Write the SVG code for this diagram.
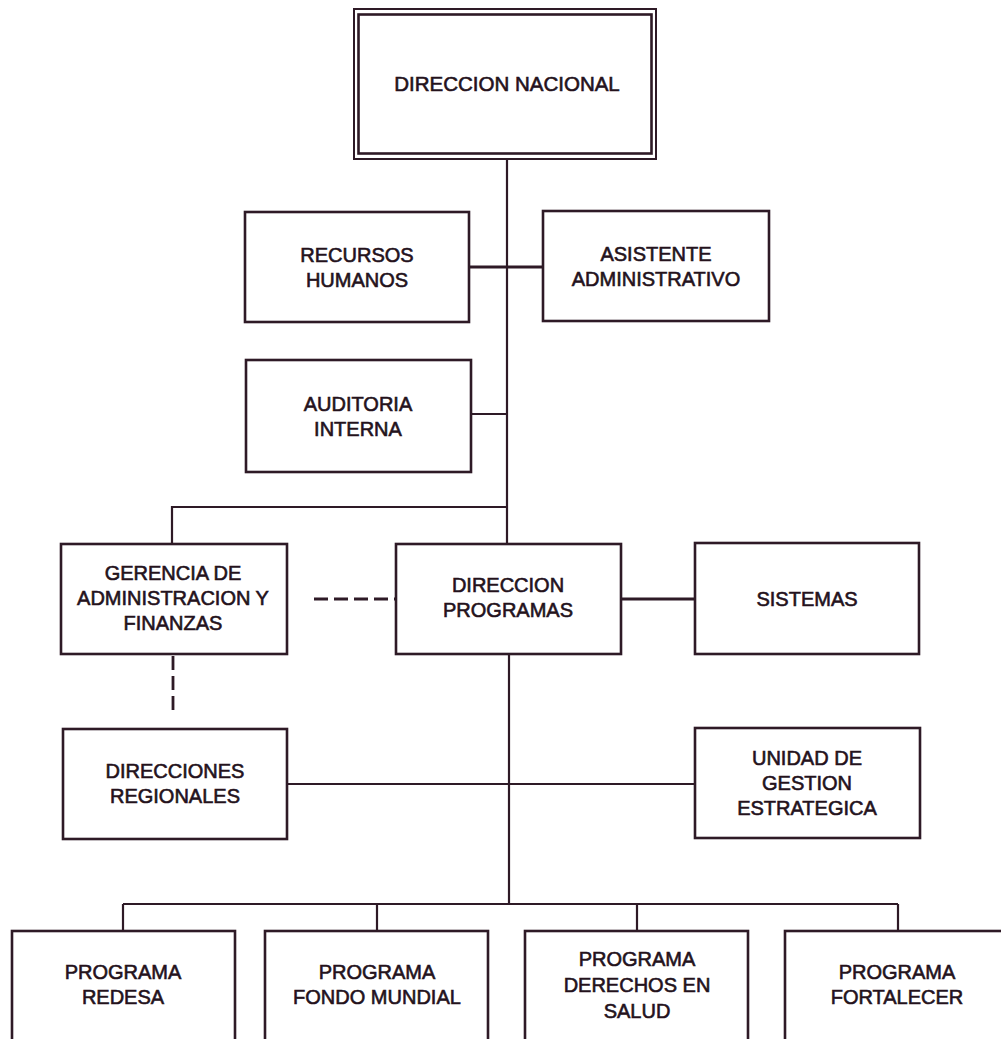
<svg xmlns="http://www.w3.org/2000/svg" width="1001" height="1039" viewBox="0 0 1001 1039">
  <style>
    .box { fill: #ffffff; stroke: #2e1a26; stroke-width: 2.6; }
    .frame { fill: none; stroke: #2e1a26; stroke-width: 2; }
    .lbl { font-family: "Liberation Sans", Arial, sans-serif; font-size: 20px; fill: #24121c; stroke: #24121c; stroke-width: 0.6; text-anchor: middle; }
    .ln { fill: none; stroke: #2e1a26; stroke-width: 2.2; }
    .thick { stroke-width: 3; }
    .dash { stroke-width: 2.8; stroke-dasharray: 14 6; }
  </style>
  <rect width="1001" height="1039" fill="#ffffff"/>

  <!-- connectors -->
  <g id="connectors">
    <line class="ln" x1="507" y1="159" x2="507" y2="544"/>
    <line class="ln" x1="509" y1="654" x2="509" y2="904"/>
    <line class="ln thick" x1="469" y1="267" x2="543" y2="267"/>
    <line class="ln" x1="471" y1="414" x2="507" y2="414"/>
    <polyline class="ln" points="507,507 172,507 172,544"/>
    <line class="ln dash" x1="314" y1="599" x2="396" y2="599"/>
    <line class="ln dash" x1="173" y1="656" x2="173" y2="716"/>
    <line class="ln thick" x1="621" y1="599" x2="695" y2="599"/>
    <line class="ln" x1="287" y1="784" x2="695" y2="784"/>
    <line class="ln" x1="123" y1="904" x2="898" y2="904"/>
    <line class="ln" x1="123" y1="904" x2="123" y2="931"/>
    <line class="ln" x1="377" y1="904" x2="377" y2="931"/>
    <line class="ln" x1="637" y1="904" x2="637" y2="931"/>
    <line class="ln" x1="898" y1="904" x2="898" y2="931"/>
  </g>

  <g id="direccion-nacional">
    <rect class="frame" x="354" y="9" width="302" height="150"/>
    <rect class="frame" x="358.5" y="14.5" width="293" height="139" style="stroke-width:2.6"/>
    <text class="lbl" x="507" y="91" style="font-size:20.5px">DIRECCION NACIONAL</text>
  </g>

  <g id="recursos-humanos">
    <rect class="box" x="245" y="212" width="224" height="110"/>
    <text class="lbl" x="357" y="262">RECURSOS</text>
    <text class="lbl" x="357" y="287">HUMANOS</text>
  </g>

  <g id="asistente-administrativo">
    <rect class="box" x="543" y="211" width="226" height="110"/>
    <text class="lbl" x="656" y="261">ASISTENTE</text>
    <text class="lbl" x="656" y="286">ADMINISTRATIVO</text>
  </g>

  <g id="auditoria-interna">
    <rect class="box" x="246" y="360" width="225" height="112"/>
    <text class="lbl" x="358" y="411">AUDITORIA</text>
    <text class="lbl" x="358" y="436">INTERNA</text>
  </g>

  <g id="gerencia-administracion">
    <rect class="box" x="61" y="544" width="226" height="110"/>
    <text class="lbl" x="173" y="580">GERENCIA DE</text>
    <text class="lbl" x="173" y="605">ADMINISTRACION Y</text>
    <text class="lbl" x="173" y="630">FINANZAS</text>
  </g>

  <g id="direccion-programas">
    <rect class="box" x="396" y="544" width="225" height="110"/>
    <text class="lbl" x="508" y="592">DIRECCION</text>
    <text class="lbl" x="508" y="617">PROGRAMAS</text>
  </g>

  <g id="sistemas">
    <rect class="box" x="695" y="543" width="224" height="111"/>
    <text class="lbl" x="807" y="606">SISTEMAS</text>
  </g>

  <g id="direcciones-regionales">
    <rect class="box" x="63" y="729" width="224" height="110"/>
    <text class="lbl" x="175" y="778">DIRECCIONES</text>
    <text class="lbl" x="175" y="803">REGIONALES</text>
  </g>

  <g id="unidad-gestion">
    <rect class="box" x="695" y="728" width="225" height="110"/>
    <text class="lbl" x="807" y="765">UNIDAD DE</text>
    <text class="lbl" x="807" y="790">GESTION</text>
    <text class="lbl" x="807" y="815">ESTRATEGICA</text>
  </g>

  <g id="programa-redesa">
    <rect class="box" x="12" y="931" width="223" height="130"/>
    <text class="lbl" x="123" y="979">PROGRAMA</text>
    <text class="lbl" x="123" y="1004">REDESA</text>
  </g>

  <g id="programa-fondo-mundial">
    <rect class="box" x="265" y="931" width="223" height="130"/>
    <text class="lbl" x="377" y="979">PROGRAMA</text>
    <text class="lbl" x="377" y="1004">FONDO MUNDIAL</text>
  </g>

  <g id="programa-derechos-salud">
    <rect class="box" x="525" y="931" width="223" height="130"/>
    <text class="lbl" x="637" y="966">PROGRAMA</text>
    <text class="lbl" x="637" y="992">DERECHOS EN</text>
    <text class="lbl" x="637" y="1018">SALUD</text>
  </g>

  <g id="programa-fortalecer">
    <rect class="box" x="785" y="931" width="230" height="130"/>
    <text class="lbl" x="897" y="979">PROGRAMA</text>
    <text class="lbl" x="897" y="1004">FORTALECER</text>
  </g>
</svg>
